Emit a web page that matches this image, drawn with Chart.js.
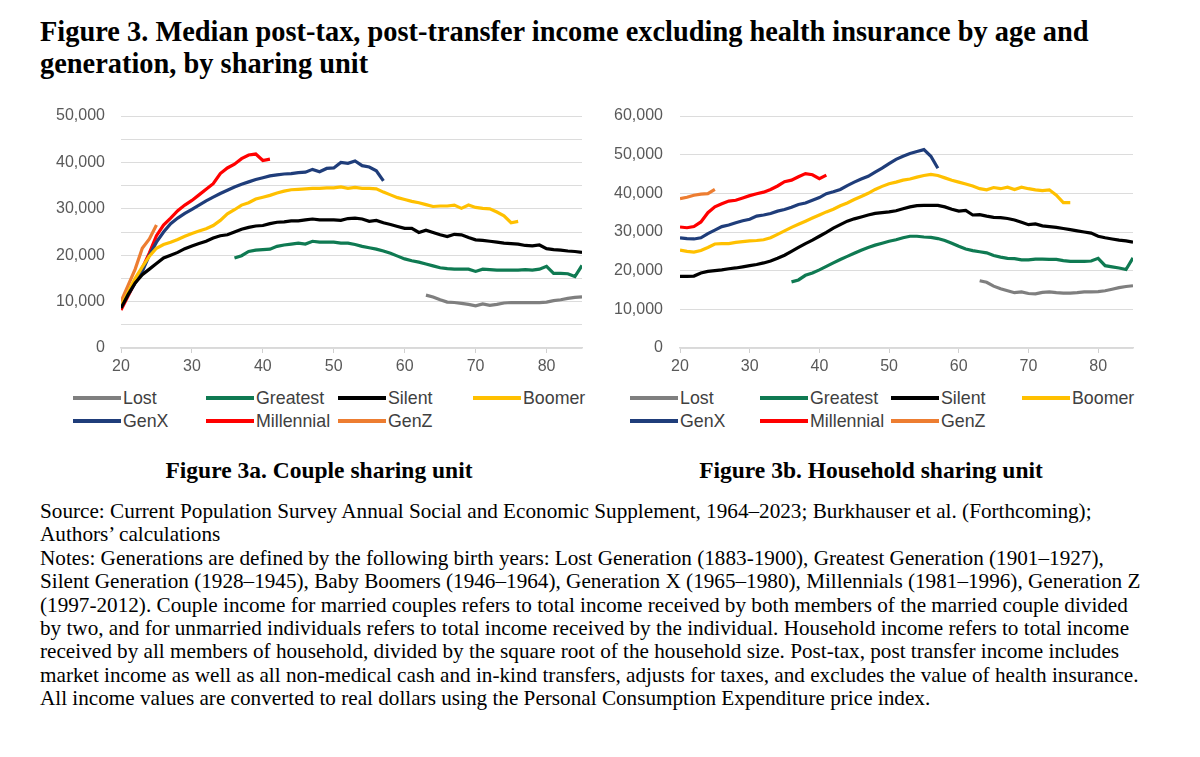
<!DOCTYPE html>
<html>
<head>
<meta charset="utf-8">
<script src="https://cdn.jsdelivr.net/npm/chart.js@4.4.0/dist/chart.umd.min.js"></script>
<style>
  body { margin: 0; background: #fff; width: 1200px; height: 757px; overflow: hidden; position: relative;
         font-family: "Liberation Serif", "Times New Roman", serif; color: #000; }
  h1 { position: absolute; left: 40px; top: 16px; margin: 0; font-size: 28.4px; line-height: 32px; font-weight: bold; white-space: nowrap; }
  .box { position: absolute; top: 100px; width: 560px; height: 280px; }
  .item { position: absolute; display: flex; align-items: center; white-space: nowrap;
          font-family: "Liberation Sans", Arial, sans-serif; font-size: 17.8px; color: #404040; height: 22px; }
  .swatch { display: inline-block; width: 48px; height: 3.5px; margin-right: 2px; }
  .sub { position: absolute; top: 457px; width: 460px; text-align: center; font-weight: bold; font-size: 23.5px; line-height: 26px; }
  .notes { position: absolute; left: 40px; top: 500px; font-size: 21.2px; line-height: 23.4px; white-space: nowrap; }
</style>
</head>
<body>
<h1>Figure 3. Median post-tax, post-transfer income excluding health insurance by age and<br>generation, by sharing unit</h1>

<div class="box" style="left:40px"><canvas id="couple" width="560" height="280"></canvas></div>
<div class="box" style="left:600px"><canvas id="household" width="560" height="280"></canvas></div>
<div id="legends"></div>

<div class="sub" style="left:89px">Figure 3a. Couple sharing unit</div>
<div class="sub" style="left:641px">Figure 3b. Household sharing unit</div>

<div class="notes">
Source: Current Population Survey Annual Social and Economic Supplement, 1964–2023; Burkhauser et al. (Forthcoming);<br>
Authors’ calculations<br>
Notes: Generations are defined by the following birth years: Lost Generation (1883-1900), Greatest Generation (1901–1927),<br>
Silent Generation (1928–1945), Baby Boomers (1946–1964), Generation X (1965–1980), Millennials (1981–1996), Generation Z<br>
(1997-2012). Couple income for married couples refers to total income received by both members of the married couple divided<br>
by two, and for unmarried individuals refers to total income received by the individual. Household income refers to total income<br>
received by all members of household, divided by the square root of the household size. Post-tax, post transfer income includes<br>
market income as well as all non-medical cash and in-kind transfers, adjusts for taxes, and excludes the value of health insurance.<br>
All income values are converted to real dollars using the Personal Consumption Expenditure price index.
</div>

<script>
// generations, legend order
const generations = ['Lost', 'Greatest', 'Silent', 'Boomer', 'GenX', 'Millennial', 'GenZ'];
const colors = ['#7f7f7f', '#0f7a52', '#000000', '#ffc000', '#1f3d7a', '#ff0000', '#ed7d31'];
// first age of each series (ages run 20..85)
const startAges = [63, 36, 20, 20, 20, 20, 20];

// Figure 3a: couple sharing unit (median income, $)
const coupleLost = [11400, 11000, 10400, 9900, 9800, 9600, 9400, 9100, 9500, 9200, 9400, 9700, 9800, 9800, 9800,
  9800, 9800, 9900, 10200, 10400, 10700, 10900, 11000];
const coupleGreatest = [19400, 19900, 20800, 21100, 21200, 21300, 21900, 22200, 22400, 22600, 22400, 23000, 22800,
  22800, 22800, 22600, 22600, 22300, 21900, 21600, 21300, 20900, 20400, 19800, 19200, 18800, 18500, 18100, 17700,
  17300, 17100, 17000, 17000, 17000, 16500, 17000, 16900, 16800, 16800, 16800, 16800, 16900, 16800, 17000, 17600,
  16100, 16100, 16000, 15400, 17800];
const coupleSilent = [8600, 11500, 14000, 15800, 17000, 18200, 19400, 20000, 20600, 21400,
  22000, 22500, 23000, 23700, 24200, 24400, 25000, 25600, 26000, 26300,
  26400, 26800, 27100, 27200, 27400, 27400, 27600, 27800, 27600, 27600,
  27600, 27500, 27900, 28000, 27800, 27300, 27500, 27000, 26600, 26200,
  25800, 25800, 24900, 25400, 24900, 24400, 24000, 24500, 24400, 23800,
  23300, 23200, 23000, 22800, 22600, 22500, 22400, 22100, 22000, 22200,
  21400, 21200, 21100, 20900, 20800, 20600];
const coupleBoomer = [9000, 12000, 15000, 17500, 19800, 21500, 22300, 22800, 23400, 24100,
  24700, 25200, 25700, 26400, 27500, 28900, 29800, 30800, 31300, 32100,
  32500, 32900, 33400, 33800, 34100, 34200, 34300, 34400, 34400, 34500,
  34500, 34700, 34400, 34600, 34400, 34400, 34300, 33600, 33000, 32400,
  32000, 31600, 31300, 30900, 30500, 30600, 30600, 30800, 30100, 30800,
  30300, 30100, 30000, 29300, 28500, 27000, 27300];
const coupleGenX = [8800, 11500, 14000, 16500, 20000, 22800, 25000, 26800, 28000, 29000,
  29900, 30800, 31700, 32500, 33300, 34000, 34700, 35300, 35800, 36300,
  36700, 37100, 37300, 37500, 37600, 37800, 37900, 38500, 38000, 38700,
  38800, 40000, 39800, 40300, 39300, 39000, 38200, 36000];
const coupleMillennial = [8200, 11200, 14200, 17200, 20500, 24200, 26500, 28000, 29600, 30800, 31800, 33000, 34200,
  35400, 37600, 38800, 39600, 40800, 41600, 41800, 40400, 40700];
const coupleGenZ = [10000, 13500, 17000, 21500, 23500, 26500];

// Figure 3b: household sharing unit (median income, $)
const hhLost = [17400, 17000, 16000, 15300, 14800, 14300, 14500, 14100, 14000, 14400, 14500, 14300, 14200, 14200,
  14300, 14500, 14500, 14600, 14800, 15200, 15600, 15900, 16100];
const hhGreatest = [17100, 17600, 18800, 19400,
  20200, 21100, 22000, 22900, 23700, 24500, 25300, 26000, 26600, 27100,
  27600, 28000, 28500, 28900, 28900, 28700, 28600, 28300, 27800, 27100,
  26300, 25600, 25200, 24900, 24600, 23900, 23500, 23200, 23100, 22800,
  22800, 23000, 23000, 22900, 22900, 22600, 22400, 22400, 22400, 22500,
  23200, 21300, 21000, 20700, 20300, 23300];
const hhSilent = [18500, 18500, 18600, 19400, 19800, 20000, 20200, 20500, 20700, 21000,
  21300, 21600, 22000, 22500, 23200, 24000, 25000, 26000, 27000, 27900,
  28900, 29900, 31000, 31900, 32800, 33400, 33900, 34400, 34800, 35000,
  35200, 35500, 36000, 36500, 36800, 36900, 36900, 36900, 36500, 35900,
  35400, 35600, 34400, 34500, 34100, 33800, 33700, 33500, 33100, 32500,
  31900, 32100, 31600, 31400, 31200, 30900, 30600, 30300, 30000, 29700,
  28900, 28500, 28200, 27900, 27700, 27400];
const hhBoomer = [25300, 25000, 24800, 25200, 26000, 26900, 27000, 27000, 27300, 27500,
  27700, 27800, 28000, 28500, 29400, 30300, 31200, 32000, 32800, 33600,
  34400, 35200, 35900, 36800, 37500, 38400, 39200, 40000, 41000, 41800,
  42500, 42900, 43400, 43700, 44200, 44600, 44900, 44600, 44000, 43400,
  42900, 42400, 41900, 41200, 40900, 41500, 41200, 41600, 41000, 41600,
  41200, 40900, 40700, 40900, 39500, 37600, 37600];
const hhGenX = [28500, 28300, 28200, 28500, 29600, 30500, 31400, 31800, 32400, 32900,
  33300, 34100, 34400, 34800, 35400, 35800, 36400, 37100, 37500, 38200,
  38900, 39900, 40400, 41000, 42000, 42900, 43700, 44400, 45500, 46500,
  47700, 48800, 49600, 50300, 50800, 51300, 49600, 46500];
const hhMillennial = [31300, 31100, 31400, 32600, 35000, 36500, 37300, 38000, 38200, 38800, 39400, 39900, 40300,
  41000, 41900, 43000, 43400, 44300, 45100, 44800, 43800, 44700];
const hhGenZ = [38600, 39000, 39500, 39800, 39900, 41000];

const coupleSeries = [coupleLost, coupleGreatest, coupleSilent, coupleBoomer, coupleGenX, coupleMillennial, coupleGenZ];
const hhSeries = [hhLost, hhGreatest, hhSilent, hhBoomer, hhGenX, hhMillennial, hhGenZ];

const axisFont = { family: '"Liberation Sans", Arial, sans-serif', size: 16 };

function makeChart(id, series, yMax, yWidth, yPad, padRight) {
  const datasets = series.map((vals, i) => ({
    label: generations[i],
    data: vals.map((v, k) => ({ x: startAges[i] + k, y: v })),
    borderColor: colors[i],
    borderWidth: 3.2,
    pointRadius: 0,
    fill: false,
    tension: 0
  }));
  return new Chart(document.getElementById(id), {
    type: 'line',
    data: { datasets },
    options: {
      responsive: false,
      animation: false,
      layout: { padding: { top: 16, right: padRight, left: 0, bottom: 0 } },
      plugins: { legend: { display: false }, tooltip: { enabled: false } },
      scales: {
        x: {
          type: 'linear', min: 20, max: 85,
          ticks: { stepSize: 10, includeBounds: false, color: '#595959', font: axisFont, padding: 4, maxRotation: 0 },
          grid: { drawOnChartArea: false, drawTicks: true, tickLength: 5, color: '#d0d0d0' },
          border: { display: true, color: '#d9d9d9', width: 1.5 },
          afterFit: s => { s.height = 32; }
        },
        y: {
          min: 0, max: yMax,
          ticks: {
            stepSize: 5000, color: '#595959', font: axisFont, padding: yPad,
            callback: v => v % 10000 === 0 ? v.toLocaleString('en-US') : ''
          },
          grid: { color: '#dcdcdc', drawTicks: false },
          border: { display: false },
          // keep the label padding from pushing the plot top down
          afterFit: s => { s.width = yWidth; s.paddingTop = 8; s.paddingBottom = 8; }
        }
      }
    }
  });
}

makeChart('couple', coupleSeries, 50000, 81, 16, 18);
makeChart('household', hhSeries, 60000, 80, 17, 27);

// legends in two rows of four columns, like the source figure
function makeLegend(cols, rows) {
  const holder = document.getElementById('legends');
  generations.forEach((name, i) => {
    const el = document.createElement('div');
    el.className = 'item';
    el.style.left = cols[i % 4] + 'px';
    el.style.top = (rows[Math.floor(i / 4)] - 11) + 'px';
    el.innerHTML = '<span class="swatch" style="background:' + colors[i] + '"></span>' + name;
    holder.appendChild(el);
  });
}
makeLegend([73, 206, 338, 473], [398, 421]);
makeLegend([630, 760, 891, 1022], [398, 421]);
</script>
</body>
</html>
